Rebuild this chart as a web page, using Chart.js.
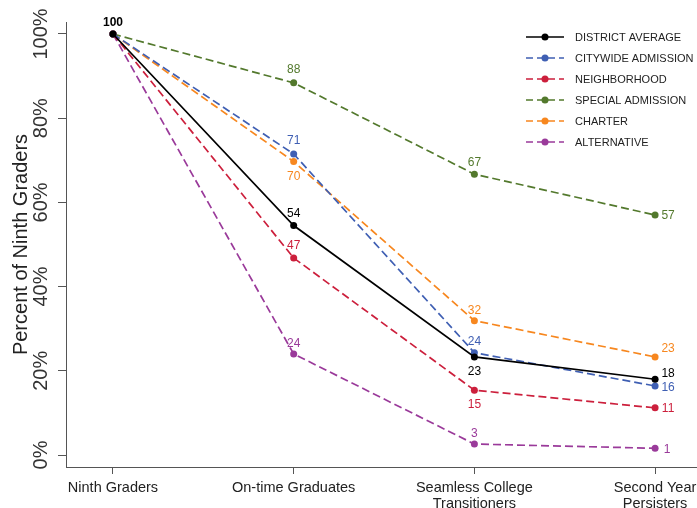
<!DOCTYPE html>
<html>
<head>
<meta charset="utf-8">
<script src="https://cdn.jsdelivr.net/npm/chart.js@4.4.1/dist/chart.umd.min.js"></script>
<style>
  html, body { margin: 0; padding: 0; background: #fff; }
  #wrap { width: 697px; height: 508px; position: relative; }
</style>
</head>
<body>
<div id="wrap"><canvas id="gradChart"></canvas></div>
<script>
// categories along the pipeline
const stages = [["Ninth Graders"], ["On-time Graduates"], ["Seamless College", "Transitioners"], ["Second Year", "Persisters"]];
const yTicks = [0, 20, 40, 60, 80, 100];

// percent of ninth graders, per school type
const districtAvg = [100, 54.5, 23.3, 18.0];
const citywide = [100, 71.5, 24.3, 16.4];
const neighborhood = [100, 46.8, 15.4, 11.2];
const specialAdm = [100, 88.4, 66.7, 57.0];
const charter = [100, 69.7, 31.9, 23.3];
const alternative = [100, 24.0, 2.6, 1.6];

// shown labels
const districtLbl = ["100", "54", "23", "18"];
const citywideLbl = [null, "71", "24", "16"];
const neighborhoodLbl = [null, "47", "15", "11"];
const specialLbl = [null, "88", "67", "57"];
const charterLbl = [null, "70", "32", "23"];
const alternativeLbl = [null, "24", "3", "1"];

const FONT = '"Liberation Sans", Arial, Helvetica, sans-serif';

// label offsets (style only) [dx, dy] from each point
const labelOffsets = [
    [[0, -11], [0, -12], [0, 15], [13, -6]],
    [null, [0, -13], [0, -11], [13, 2]],
    [null, [0, -12], [0, 15], [13, 1]],
    [null, [0, -13], [0, -12], [13, 1]],
    [null, [0, 15], [0, -10], [13, -8]],
    [null, [0, -10], [0, -10], [12, 1]]
];

function series(label, data, labels, color, dashed) {
    return {
        label: label,
        data: data.map((v, i) => ({ x: i, y: v })),
        valueLabels: labels,
        borderColor: color,
        backgroundColor: color,
        borderWidth: 1.7,
        borderDash: dashed ? [8, 4] : [],
        pointRadius: 3.5,
        pointHoverRadius: 3.5,
        pointBorderWidth: 0,
        tension: 0,
        fill: false
    };
}

const datasets = [
    series("DISTRICT AVERAGE", districtAvg, districtLbl, "#000000", false),
    series("CITYWIDE ADMISSION", citywide, citywideLbl, "#3f5fb3", true),
    series("NEIGHBORHOOD", neighborhood, neighborhoodLbl, "#cc1f3c", true),
    series("SPECIAL ADMISSION", specialAdm, specialLbl, "#53792d", true),
    series("CHARTER", charter, charterLbl, "#f7871f", true),
    series("ALTERNATIVE", alternative, alternativeLbl, "#9a3a9a", true)
];

const extrasPlugin = {
    id: "extras",
    afterDraw(chart) {
        const ctx = chart.ctx;
        const xs = chart.scales.x;
        const ys = chart.scales.y;
        const area = chart.chartArea;

        // rotated y tick labels
        ctx.save();
        ctx.font = "20px " + FONT;
        ctx.fillStyle = "#333";
        ctx.textAlign = "center";
        ctx.textBaseline = "middle";
        yTicks.forEach(v => {
            ctx.save();
            ctx.translate(ys.left + 41, ys.getPixelForValue(v));
            ctx.rotate(-Math.PI / 2);
            ctx.fillText(v + "%", 0, 0);
            ctx.restore();
        });
        ctx.restore();

        // x category labels (drawn here so they do not pad the chart area)
        ctx.save();
        ctx.font = "14.5px " + FONT;
        ctx.fillStyle = "#222";
        ctx.textAlign = "center";
        ctx.textBaseline = "alphabetic";
        stages.forEach((lines, i) => {
            const px = xs.getPixelForValue(i);
            lines.forEach((ln, j) => ctx.fillText(ln, px, xs.top + 25 + j * 15.5));
        });
        ctx.restore();

        // value labels
        ctx.save();
        ctx.textAlign = "center";
        ctx.textBaseline = "middle";
        chart.data.datasets.forEach((ds, di) => {
            const meta = chart.getDatasetMeta(di);
            meta.data.forEach((pt, i) => {
                const txt = ds.valueLabels[i];
                if (!txt) return;
                const off = labelOffsets[di][i];
                ctx.font = (i === 0 ? "bold " : "") + "12px " + FONT;
                ctx.fillStyle = ds.borderColor;
                ctx.fillText(txt, pt.x + off[0], pt.y + off[1]);
            });
        });
        ctx.restore();

        // legend with line + dot samples
        const lx = area.right - 171;
        const ly = area.top + 15;
        ctx.save();
        ctx.font = "11px " + FONT;
        ctx.textBaseline = "middle";
        chart.data.datasets.forEach((ds, di) => {
            const y = ly + di * 21;
            ctx.strokeStyle = ds.borderColor;
            ctx.lineWidth = 1.7;
            ctx.setLineDash(ds.borderDash.length ? [7, 4] : []);
            ctx.beginPath();
            ctx.moveTo(lx, y);
            ctx.lineTo(lx + 38, y);
            ctx.stroke();
            ctx.setLineDash([]);
            ctx.fillStyle = ds.borderColor;
            ctx.beginPath();
            ctx.arc(lx + 19, y, 3.5, 0, Math.PI * 2);
            ctx.fill();
            ctx.fillStyle = "#222";
            ctx.fillText(ds.label, lx + 49, y + 0.5);
        });
        ctx.restore();
    }
};

new Chart(document.getElementById("gradChart"), {
    type: "line",
    data: { datasets: datasets },
    plugins: [extrasPlugin],
    options: {
        responsive: true,
        maintainAspectRatio: false,
        animation: false,
        devicePixelRatio: 1,
        layout: { autoPadding: false, padding: { top: 22, right: 0, left: 0, bottom: 0 } },
        plugins: { legend: { display: false }, tooltip: { enabled: false } },
        scales: {
            x: {
                type: "linear",
                min: -0.26,
                max: 3.232,
                afterBuildTicks(scale) {
                    scale.ticks = stages.map((s, i) => ({ value: i }));
                },
                afterFit(scale) { scale.height = 41; },
                grid: { display: true, drawOnChartArea: false, drawTicks: true, tickLength: 7, color: "#555" },
                border: { display: true, color: "#555", width: 1 },
                ticks: { display: false }
            },
            y: {
                min: -2.85,
                max: 102.85,
                afterBuildTicks(scale) {
                    scale.ticks = yTicks.map(v => ({ value: v }));
                },
                afterFit(scale) { scale.width = 66; },
                grid: { display: true, drawOnChartArea: false, drawTicks: true, tickLength: 8, color: "#555" },
                border: { display: true, color: "#555", width: 1 },
                ticks: { color: "rgba(0,0,0,0)", font: { size: 20 } },
                title: {
                    display: true,
                    text: "Percent of Ninth Graders",
                    color: "#222",
                    font: { family: FONT, size: 20 },
                    padding: { top: 9, bottom: 0 }
                }
            }
        }
    }
});
</script>
</body>
</html>
